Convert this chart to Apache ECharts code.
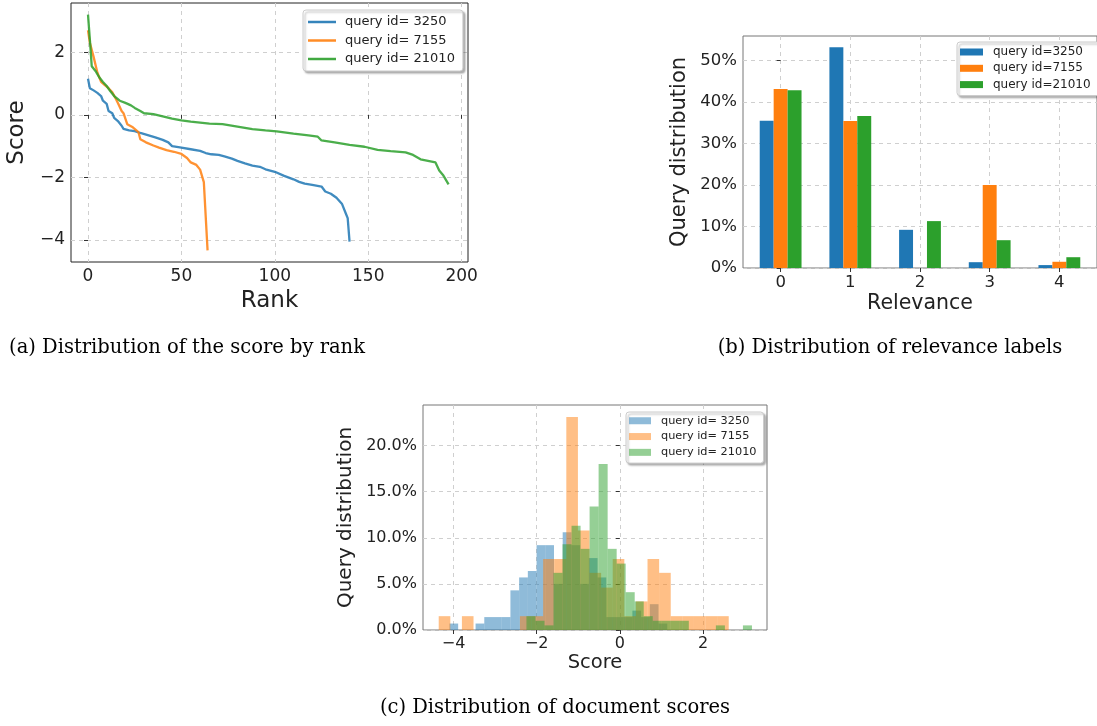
<!DOCTYPE html>
<html><head><meta charset="utf-8">
<script src="https://cdn.jsdelivr.net/npm/echarts@6/dist/echarts.min.js"></script>
<style>html,body{margin:0;padding:0;background:#fff}#c{width:1097px;height:726px}</style>
</head><body><div id="c"></div><script>
// ---- (a) score by rank ----
const rank3250  = [0,1,3,5,7,8,10,11,13,14,16,18,19,22,25,28,32,36,40,43,45,50,55,60,63,66,70,73,77,80,84,88,92,95,100,105,110,113,116,120,125,127,130,133,136,138,139,140];
const score3250 = [1.15,0.85,0.78,0.70,0.60,0.45,0.35,0.12,0.05,-0.10,-0.20,-0.35,-0.45,-0.50,-0.52,-0.58,-0.65,-0.72,-0.80,-0.88,-1.00,-1.05,-1.10,-1.15,-1.22,-1.26,-1.28,-1.33,-1.40,-1.47,-1.55,-1.62,-1.66,-1.74,-1.82,-1.95,-2.06,-2.14,-2.20,-2.24,-2.29,-2.45,-2.52,-2.65,-2.85,-3.15,-3.30,-4.05];
const rank7155  = [0,1,3,5,7,9,11,13,15,16,18,19,21,24,27,28,31,35,38,42,46,50,53,55,58,60,62,64];
const score7155 = [2.70,2.30,1.85,1.35,1.05,0.95,0.85,0.72,0.50,0.38,0.12,0.05,-0.30,-0.40,-0.55,-0.78,-0.88,-0.98,-1.05,-1.13,-1.18,-1.25,-1.38,-1.52,-1.60,-1.75,-2.15,-4.33];
const rank21010  = [0,1,2,4,6,8,10,12,14,17,20,23,25,28,30,35,40,45,50,55,60,65,72,80,88,95,101,110,118,123,125,132,140,148,155,162,170,174,178,186,188,190,193];
const score21010 = [3.20,2.40,1.55,1.40,1.20,1.05,0.92,0.75,0.60,0.45,0.38,0.30,0.22,0.12,0.05,0.02,-0.05,-0.12,-0.18,-0.22,-0.25,-0.28,-0.30,-0.38,-0.46,-0.50,-0.53,-0.60,-0.66,-0.70,-0.82,-0.88,-0.96,-1.02,-1.12,-1.16,-1.20,-1.28,-1.42,-1.52,-1.78,-1.92,-2.22];
const rankTicks  = [0,50,100,150,200];
const scoreTicks = [-4,-2,0,2];

// ---- (b) relevance distribution (%) ----
const relevanceLabels = [0,1,2,3,4];
const rel3250  = [35.5,53.2,9.2,1.4,0.7];
const rel7155  = [43.1,35.4,0,20.0,1.5];
const rel21010 = [42.8,36.6,11.3,6.7,2.6];
const pctTicks = [0,10,20,30,40,50];

// ---- (c) histogram of document scores (%), 25 bins each ----
const histStart3250 = -4.100, histWidth3250 = 0.2096;
const hist3250  = [0.7,0,0,0.7,1.4,1.4,1.4,4.3,5.7,6.4,9.2,9.2,5.0,10.6,9.2,5.0,7.8,5.7,1.4,1.4,1.4,2.1,1.4,2.8,0.7];
const histStart7155 = -4.358, histWidth7155 = 0.2791;
const hist7155  = [1.5,0,1.5,0,0,0,0,1.5,1.5,7.7,7.7,23.1,10.8,6.2,4.6,7.7,1.5,3.1,7.7,6.2,1.5,1.5,1.5,1.5,1.5];
const histStart21010 = -2.247, histWidth21010 = 0.2170;
const hist21010 = [1.5,1.0,0.5,6.2,9.3,11.3,8.8,13.4,18.0,8.8,7.2,4.1,3.1,1.5,1.0,1.0,1.0,1.0,0,0,0,0.5,0,0,0.5];
const histXTicks = [-4,-2,0,2];
const histYTicks = [0,5,10,15,20];

const names = ['query id= 3250','query id= 7155','query id= 21010'];
const namesB = ['query id=3250','query id=7155','query id=21010'];
const C = ['#1f77b4','#ff7f0e','#2ca02c'];
const FONT = 'DejaVu Sans';
const minus = v => (v < 0 ? '\u2212' + Math.abs(v) : String(v));

function zip(a, b) { return a.map((x, i) => [x, b[i]]); }

function axis(gridIndex, min, max, ticks, fmt, fontSize, extra) {
  return Object.assign({
    type: 'value', gridIndex, min, max,
    axisLine: { show: false },
    axisTick: { show: true, inside: false, length: 4, customValues: ticks, lineStyle: { color: '#333', width: 1 } },
    axisLabel: { customValues: ticks, formatter: fmt, fontFamily: FONT, fontSize, color: '#222', margin: 6 },
    splitLine: { show: true, lineStyle: { color: '#cfcfcf', type: [4, 4], width: 1 } },
    nameLocation: 'middle',
    nameTextStyle: { fontFamily: FONT, color: '#222' }
  }, extra || {});
}

function relBar(values, k) {
  return {
    type: 'custom', name: namesB[k], xAxisIndex: 1, yAxisIndex: 1,
    itemStyle: { color: C[k] }, encode: { x: 0, y: 1 },
    data: relevanceLabels.map((r, i) => [r, values[i]]),
    renderItem: (p, api) => {
      const x = api.value(0), v = api.value(1);
      const a = api.coord([x - 0.3 + 0.2 * k, v]);
      const b = api.coord([x - 0.1 + 0.2 * k, 0]);
      return { type: 'rect', shape: { x: a[0], y: a[1], width: b[0] - a[0], height: b[1] - a[1] }, style: { fill: C[k] } };
    }
  };
}

function hist(start, width, values, k) {
  return {
    type: 'custom', name: names[k], xAxisIndex: 2, yAxisIndex: 2,
    itemStyle: { color: C[k] }, encode: { x: [0, 1], y: 2 },
    data: values.map((v, i) => [start + i * width, start + (i + 1) * width, v]),
    renderItem: (p, api) => {
      const v = api.value(2);
      if (!(v > 0)) return { type: 'group', children: [] };
      const a = api.coord([api.value(0), v]);
      const b = api.coord([api.value(1), 0]);
      return { type: 'rect', shape: { x: a[0], y: a[1], width: b[0] - a[0], height: b[1] - a[1] }, style: { fill: C[k], opacity: 0.5 } };
    }
  };
}

const legendBox = {
  orient: 'vertical', selectedMode: false, backgroundColor: '#fff',
  borderColor: '#cccccc', borderWidth: 1, borderRadius: 3,
  shadowColor: 'rgba(0,0,0,0.3)', shadowBlur: 2, shadowOffsetX: 2, shadowOffsetY: 2
};

const chart = echarts.init(document.getElementById('c'), null, { renderer: 'canvas' });
chart.setOption({
  animation: false,
  backgroundColor: '#fff',
  grid: [
    { left: 71, top: 3, width: 397, height: 259, show: true, borderColor: '#222', borderWidth: 1, backgroundColor: 'transparent' },
    { left: 743, top: 36, width: 358, height: 232, show: true, borderColor: '#777', borderWidth: 1, backgroundColor: 'transparent' },
    { left: 423, top: 405, width: 344, height: 225, show: true, borderColor: '#777', borderWidth: 1, backgroundColor: 'transparent' }
  ],
  xAxis: [
    axis(0, -9.1, 203.4, rankTicks, v => String(v), 17, { name: 'Rank', nameGap: 28, nameTextStyle: { fontFamily: FONT, fontSize: 23, color: '#222' } }),
    axis(1, -0.54, 4.54, relevanceLabels, v => String(v), 16.5, { name: 'Relevance', nameGap: 25, nameTextStyle: { fontFamily: FONT, fontSize: 20.5, color: '#222' } }),
    axis(2, -4.736, 3.54, histXTicks, minus, 16, { name: 'Score', nameGap: 23, nameTextStyle: { fontFamily: FONT, fontSize: 19.5, color: '#222' } })
  ],
  yAxis: [
    axis(0, -4.70, 3.57, scoreTicks, minus, 17, { name: 'Score', nameGap: 42, nameTextStyle: { fontFamily: FONT, fontSize: 23, color: '#222' } }),
    axis(1, 0, 55.9, pctTicks, v => v + '%', 16.5, { name: 'Query distribution', nameGap: 53, nameTextStyle: { fontFamily: FONT, fontSize: 21, color: '#222' } }),
    axis(2, 0, 24.4, histYTicks, v => v.toFixed(1) + '%', 16, { name: 'Query distribution', nameGap: 67, nameTextStyle: { fontFamily: FONT, fontSize: 20, color: '#222' } })
  ],
  legend: [
    Object.assign({}, legendBox, {
      left: 303, top: 10, padding: [4, 8, 4, 5], itemGap: 2.5, itemWidth: 28, itemHeight: 2.5,
      textStyle: { fontFamily: FONT, fontSize: 13, color: '#222', lineHeight: 16, padding: [0, 0, 0, 4] },
      data: names.map(n => ({ name: n, icon: 'rect', itemStyle: { borderWidth: 0, opacity: 0.9 } }))
    }),
    Object.assign({}, legendBox, {
      left: 957, top: 42, padding: [3, 9, 4, 3], itemGap: 2.3, itemWidth: 23, itemHeight: 7,
      textStyle: { fontFamily: FONT, fontSize: 12, color: '#222', lineHeight: 14, padding: [0, 0, 0, 5] },
      data: namesB.map(n => ({ name: n, icon: 'rect', itemStyle: { borderWidth: 0 } }))
    }),
    Object.assign({}, legendBox, {
      left: 626, top: 412, padding: [2, 7, 4, 3], itemGap: 2.3, itemWidth: 22, itemHeight: 7,
      textStyle: { fontFamily: FONT, fontSize: 11.3, color: '#222', lineHeight: 13.5, padding: [0, 0, 0, 5] },
      data: names.map(n => ({ name: n, icon: 'rect', itemStyle: { borderWidth: 0, opacity: 0.5 } }))
    })
  ],
  graphic: [
    { type: 'text', x: 187, y: 348, style: { text: '(a) Distribution of the score by rank', font: '19.5px "DejaVu Serif"', fill: '#000', align: 'center', verticalAlign: 'middle' } },
    { type: 'text', x: 890, y: 348, style: { text: '(b) Distribution of relevance labels', font: '19.5px "DejaVu Serif"', fill: '#000', align: 'center', verticalAlign: 'middle' } },
    { type: 'text', x: 555, y: 708, style: { text: '(c) Distribution of document scores', font: '19.5px "DejaVu Serif"', fill: '#000', align: 'center', verticalAlign: 'middle' } }
  ],
  series: [
    { type: 'line', name: names[0], xAxisIndex: 0, yAxisIndex: 0, data: zip(rank3250, score3250), symbol: 'none', lineStyle: { width: 2.3, color: C[0], opacity: 0.85 }, itemStyle: { color: C[0] } },
    { type: 'line', name: names[1], xAxisIndex: 0, yAxisIndex: 0, data: zip(rank7155, score7155), symbol: 'none', lineStyle: { width: 2.3, color: C[1], opacity: 0.85 }, itemStyle: { color: C[1] } },
    { type: 'line', name: names[2], xAxisIndex: 0, yAxisIndex: 0, data: zip(rank21010, score21010), symbol: 'none', lineStyle: { width: 2.3, color: C[2], opacity: 0.85 }, itemStyle: { color: C[2] } },
    relBar(rel3250, 0), relBar(rel7155, 1), relBar(rel21010, 2),
    hist(histStart3250, histWidth3250, hist3250, 0),
    hist(histStart7155, histWidth7155, hist7155, 1),
    hist(histStart21010, histWidth21010, hist21010, 2)
  ]
});
</script></body></html>
